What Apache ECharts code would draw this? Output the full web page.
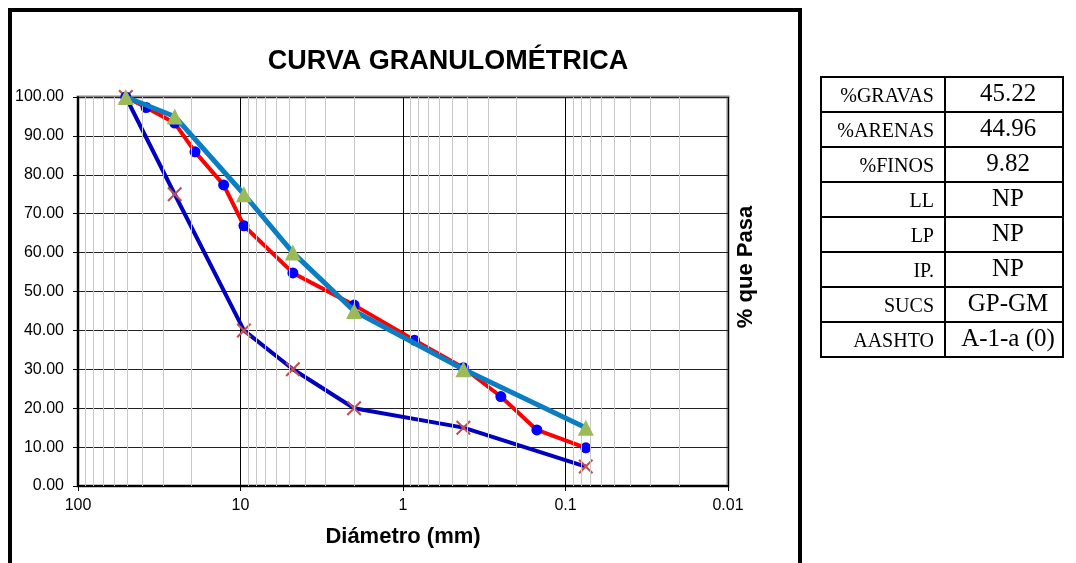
<!DOCTYPE html>
<html>
<head>
<meta charset="utf-8">
<script src="https://cdn.jsdelivr.net/npm/echarts@6/dist/echarts.min.js"></script>
<style>
  html, body { margin: 0; padding: 0; background: #fff; }
  #wrap { position: relative; width: 1076px; height: 563px; overflow: hidden; }
  #chart { position: absolute; left: 0; top: 0; width: 1076px; height: 563px; }
  #tabla { position: absolute; left: 820px; top: 76px; border-collapse: collapse; font-family: 'Liberation Serif', 'DejaVu Serif', serif; }
  #tabla td { border: 2px solid #000; height: 27px; padding: 0 0 6px 0; vertical-align: bottom; line-height: 1; }
  #tabla td.k { width: 112px; text-align: right; font-size: 20px; padding-right: 10px; }
  #tabla td.v { width: 108px; text-align: center; font-size: 25px; padding-left: 8px; }
</style>
</head>
<body>
<div id="wrap">
  <div id="chart"></div>
  <table id="tabla"></table>
</div>
<script>
// tamices (mm) y % que pasa
const sizesSample = [50.8, 38.1, 25.4, 19.05, 12.7, 9.525, 4.76, 2.0, 0.85, 0.425, 0.25, 0.15, 0.075]
const passSample = [100, 97.3, 93.3, 85.9, 77.4, 66.9, 54.78, 46.5, 37.5, 30.4, 23.0, 14.4, 9.82]

// limites del huso
const sizesLimit = [50.8, 25.4, 9.525, 4.76, 2.0, 0.425, 0.075]
const passUpper = [100, 95, 75, 60, 45, 30, 15]
const passLower = [100, 75, 40, 30, 20, 15, 5]

// lineas menores del eje log
const decades = [10, 1, 0.1, 0.01]
const multipliers = [2, 3, 4, 5, 6, 7, 8, 9]

// tabla resumen
const tableKeys = ['%GRAVAS', '%ARENAS', '%FINOS', 'LL', 'LP', 'IP.', 'SUCS', 'AASHTO']
const tableVals = ['45.22', '44.96', '9.82', 'NP', 'NP', 'NP', 'GP-GM', 'A-1-a (0)']

document.getElementById('tabla').innerHTML = tableKeys.map((k, i) =>
  '<tr><td class="k">' + k + '</td><td class="v">' + tableVals[i] + '</td></tr>'
).join('')

const minorLines = []
decades.forEach(d => {
  multipliers.forEach(m => {
    minorLines.push({ xAxis: +(d * m).toPrecision(3) })
  })
})

const pair = (xs, ys) => xs.map((x, i) => [x, ys[i]])

const crossPath = 'path://M0,1L1,0L5,4L9,0L10,1L6,5L10,9L9,10L5,6L1,10L0,9L4,5Z'

const chart = echarts.init(document.getElementById('chart'))
chart.setOption({
  animation: false,
  title: {
    text: 'CURVA GRANULOMÉTRICA',
    left: 443,
    top: 43,
    textAlign: 'center',
    textStyle: {
      fontFamily: 'Liberation Sans, Arial, sans-serif',
      fontSize: 27,
      fontWeight: 'bold',
      color: '#000'
    }
  },
  grid: {
    left: 78,
    right: 348,
    top: 97,
    bottom: 77,
    show: true,
    borderColor: '#888',
    borderWidth: 3,
    backgroundColor: 'transparent'
  },
  xAxis: {
    type: 'log',
    logBase: 10,
    min: 0.01,
    max: 100,
    inverse: true,
    z: 2,
    name: 'Diámetro (mm)',
    nameLocation: 'middle',
    nameGap: 40,
    nameTextStyle: {
      fontFamily: 'Liberation Sans, Arial, sans-serif',
      fontSize: 22,
      fontWeight: 'bold',
      color: '#000'
    },
    axisLine: { lineStyle: { color: '#000', width: 2 } },
    axisTick: { show: true, length: 5, lineStyle: { color: '#000' } },
    axisLabel: {
      margin: 12,
      fontFamily: 'Liberation Sans, Arial, sans-serif',
      fontSize: 16,
      color: '#000',
      formatter: v => String(+v.toPrecision(3))
    },
    splitLine: { show: true, lineStyle: { color: '#000', width: 1 } },
    minorTick: { show: false },
    minorSplitLine: { show: false }
  },
  yAxis: {
    type: 'value',
    min: 0,
    max: 100,
    interval: 10,
    z: 2,
    axisLine: { show: true, lineStyle: { color: '#000', width: 2 } },
    axisTick: { show: true, length: 5, lineStyle: { color: '#000' } },
    axisLabel: {
      margin: 14,
      fontFamily: 'Liberation Sans, Arial, sans-serif',
      fontSize: 16,
      color: '#000',
      formatter: v => v.toFixed(2)
    },
    splitLine: { show: true, lineStyle: { color: '#222', width: 1 } }
  },
  graphic: [
    {
      type: 'rect',
      shape: { x: 10, y: 10, width: 790, height: 620 },
      style: { fill: 'none', stroke: '#000', lineWidth: 4 },
      silent: true
    },
    {
      type: 'text',
      x: 746,
      y: 267,
      rotation: Math.PI / 2,
      style: {
        text: '% que Pasa',
        fontFamily: 'Liberation Sans, Arial, sans-serif',
        fontSize: 22,
        fontWeight: 'bold',
        fill: '#000',
        align: 'center',
        verticalAlign: 'middle'
      }
    }
  ],
  series: [
    {
      name: 'grid-minor',
      type: 'line',
      data: [],
      z: 1,
      silent: true,
      markLine: {
        silent: true,
        symbol: ['none', 'none'],
        label: { show: false },
        lineStyle: { color: '#c8c8c8', width: 1, type: 'solid' },
        data: minorLines
      }
    },
    {
      name: 'Limite inferior',
      type: 'line',
      z: 3,
      data: pair(sizesLimit, passLower),
      symbol: crossPath,
      symbolSize: 15,
      lineStyle: { color: '#0000c0', width: 4 },
      itemStyle: { color: '#c0504d' }
    },
    {
      name: 'Muestra',
      type: 'line',
      z: 4,
      data: pair(sizesSample, passSample),
      symbol: 'circle',
      symbolSize: 11,
      lineStyle: { color: '#ff0000', width: 4 },
      itemStyle: { color: '#0000ff' }
    },
    {
      name: 'Limite superior',
      type: 'line',
      z: 5,
      data: pair(sizesLimit, passUpper),
      symbol: 'triangle',
      symbolSize: 16,
      lineStyle: { color: '#0b7dc3', width: 5 },
      itemStyle: { color: '#9bbb59' }
    }
  ]
})
</script>
</body>
</html>
